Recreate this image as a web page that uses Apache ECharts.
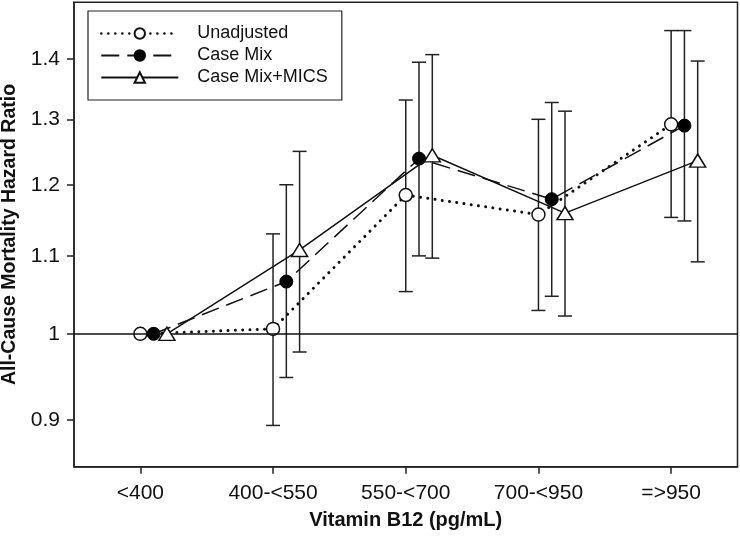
<!DOCTYPE html>
<html>
<head>
<meta charset="utf-8">
<script src="https://cdn.jsdelivr.net/npm/echarts@6/dist/echarts.min.js"></script>
<style>html,body{margin:0;padding:0;background:#fff}#c{width:740px;height:536px}</style>
</head>
<body>
<div id="c"></div>
<script>
// ---- data ----
var categories = ['<400', '400-<550', '550-<700', '700-<950', '=>950'];
var seriesNames = ['Unadjusted', 'Case Mix', 'Case Mix+MICS'];
var unadjHR  = [1.000, 1.006, 1.185, 1.157, 1.292];
var unadjLo  = [null,  0.894, 1.053, 1.029, 1.153];
var unadjHi  = [null,  1.130, 1.331, 1.300, 1.449];
var caseHR   = [1.000, 1.066, 1.239, 1.179, 1.290];
var caseLo   = [null,  0.948, 1.100, 1.047, 1.148];
var caseHi   = [null,  1.200, 1.394, 1.327, 1.449];
var micsHR   = [1.000, 1.108, 1.244, 1.159, 1.236];
var micsLo   = [null,  0.978, 1.097, 1.022, 1.092];
var micsHi   = [null,  1.250, 1.407, 1.313, 1.396];
var yTicks = [0.9, 1, 1.1, 1.2, 1.3, 1.4];

// ---- build ----
var offsets = [0, 0.1, 0.2];
var FONT = '"Liberation Sans", Arial, sans-serif';
var INK = '#111';

function pts(hr, k) {
  return hr.map(function (v, i) { return [i + offsets[k], v]; });
}
function bars(lo, hi, k) {
  var out = [];
  lo.forEach(function (l, i) { if (l != null) out.push([i + offsets[k], l, hi[i]]); });
  return out;
}
var allBars = bars(unadjLo, unadjHi, 0).concat(bars(caseLo, caseHi, 1), bars(micsLo, micsHi, 2));

var chart = echarts.init(document.getElementById('c'), null, {renderer: 'canvas'});
chart.setOption({
  animation: false,
  backgroundColor: '#fff',
  grid: {left: 74, right: 2.5, top: 2.3, bottom: 69.3, show: true, borderColor: '#222', borderWidth: 1.5,
    backgroundColor: 'transparent', containLabel: false, outerBoundsMode: 'none'},
  legend: {
    left: 88, top: 11, orient: 'vertical',
    data: [
      {name: seriesNames[0], lineStyle: {width: 2.6, type: [0.01, 7], cap: 'round'}},
      {name: seriesNames[1]},
      {name: seriesNames[2]}
    ],
    itemWidth: 77, itemHeight: 13, itemGap: 1,
    padding: [12, 14, 12, 12],
    borderColor: '#222', borderWidth: 1.2,
    textStyle: {fontFamily: FONT, fontSize: 18, color: INK, lineHeight: 21, padding: [0, 0, 0, 14]}
  },
  xAxis: [{
    type: 'category', data: categories,
    name: 'Vitamin B12 (pg/mL)', nameLocation: 'middle', nameGap: 44,
    nameTextStyle: {fontFamily: FONT, fontSize: 20, fontWeight: 'bold', color: INK},
    axisLine: {show: true, onZero: false, lineStyle: {color: '#222', width: 1.5}},
    axisTick: {show: true, alignWithLabel: true, length: 7, lineStyle: {color: '#222', width: 1.5}},
    axisLabel: {fontFamily: FONT, fontSize: 21, color: INK, margin: 16},
    splitLine: {show: false}
  }, {
    type: 'value', min: -0.5, max: 4.5, show: false
  }],
  yAxis: {
    type: 'log', logBase: 10, min: 0.85, max: 1.5,
    name: 'All-Cause Mortality Hazard Ratio', nameLocation: 'middle', nameGap: 52,
    nameRotate: 90,
    nameTextStyle: {fontFamily: FONT, fontSize: 19.5, fontWeight: 'bold', color: INK},
    axisLine: {show: true, onZero: false, lineStyle: {color: '#222', width: 1.5}},
    axisTick: {show: true, length: 7, customValues: yTicks, lineStyle: {color: '#222', width: 1.5}},
    axisLabel: {fontFamily: FONT, fontSize: 21, color: INK, margin: 14, customValues: yTicks,
      formatter: function (v) { return String(+(+v).toFixed(2)); }},
    splitLine: {show: false},
    minorTick: {show: false}
  },
  series: [{
    type: 'custom', xAxisIndex: 1, yAxisIndex: 0, z: 1, silent: true,
    data: allBars,
    renderItem: function (params, api) {
      var x = api.value(0);
      var p1 = api.coord([x, api.value(1)]);
      var p2 = api.coord([x, api.value(2)]);
      var hw = 7;
      var st = {stroke: '#222', lineWidth: 1.5, fill: null};
      return {type: 'group', children: [
        {type: 'line', shape: {x1: p1[0], y1: p1[1], x2: p2[0], y2: p2[1]}, style: st},
        {type: 'line', shape: {x1: p1[0] - hw, y1: p1[1], x2: p1[0] + hw, y2: p1[1]}, style: st},
        {type: 'line', shape: {x1: p2[0] - hw, y1: p2[1], x2: p2[0] + hw, y2: p2[1]}, style: st}
      ]};
    }
  }, {
    name: seriesNames[0], type: 'line', xAxisIndex: 1, z: 3,
    data: pts(unadjHR, 0),
    symbol: 'circle', symbolSize: 13,
    itemStyle: {color: '#fff', borderColor: '#111', borderWidth: 1.5},
    lineStyle: {color: '#111', width: 3, type: [0.01, 7.3], cap: 'round'},
    markLine: {silent: true, symbol: 'none', label: {show: false},
      lineStyle: {color: '#111', width: 1.5, type: 'solid'}, data: [{yAxis: 1}]}
  }, {
    name: seriesNames[1], type: 'line', xAxisIndex: 1, z: 4,
    data: pts(caseHR, 1),
    symbol: 'circle', symbolSize: 13,
    itemStyle: {color: '#000', borderColor: '#000', borderWidth: 1},
    lineStyle: {color: '#111', width: 1.5, type: [18, 8]}
  }, {
    name: seriesNames[2], type: 'line', xAxisIndex: 1, z: 5,
    data: pts(micsHR, 2),
    symbol: 'triangle', symbolSize: [16, 13],
    itemStyle: {color: '#fff', borderColor: '#111', borderWidth: 1.5},
    lineStyle: {color: '#111', width: 1.5, type: 'solid'}
  }]
});
</script>
</body>
</html>
